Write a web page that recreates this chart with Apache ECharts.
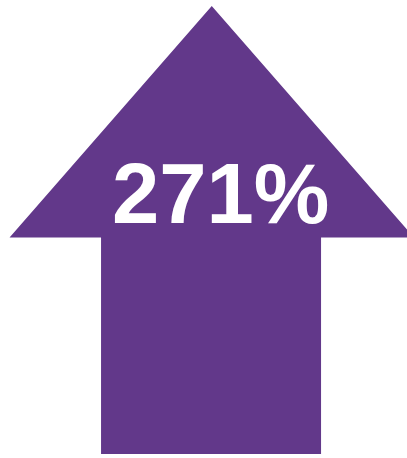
<!DOCTYPE html>
<html><head><meta charset="utf-8">
<script src="https://cdn.jsdelivr.net/npm/echarts@6/dist/echarts.min.js"></script>
<style>html,body{margin:0;padding:0;background:#fff}#c{width:407px;height:458px}</style>
</head><body><div id="c"></div>
<script>
const categories = ['Change'];
const values = [271];
const labelSuffix = '%';

const chart = echarts.init(document.getElementById('c'));
chart.setOption({
  animation: false,
  grid: {left: 16.5, right: -14, top: 6, bottom: 4},
  xAxis: {type: 'category', data: categories, show: false},
  yAxis: {type: 'value', min: 0, max: values[0], show: false},
  series: [{
    type: 'pictorialBar',
    data: values,
    symbol: 'path://M202.2 0 L404.4 231.5 L311.5 231.5 L311.5 448 L91.5 448 L91.5 231.5 L0 231.5 Z',
    symbolSize: [404.4, '100%'],
    symbolPosition: 'start',
    itemStyle: {color: '#62388A'},
    label: {
      show: true,
      position: 'inside',
      offset: [9, -30],
      formatter: p => p.value + labelSuffix,
      color: '#fff',
      fontFamily: 'Liberation Sans',
      fontWeight: 'bold',
      fontSize: 85
    }
  }]
});
</script></body></html>
